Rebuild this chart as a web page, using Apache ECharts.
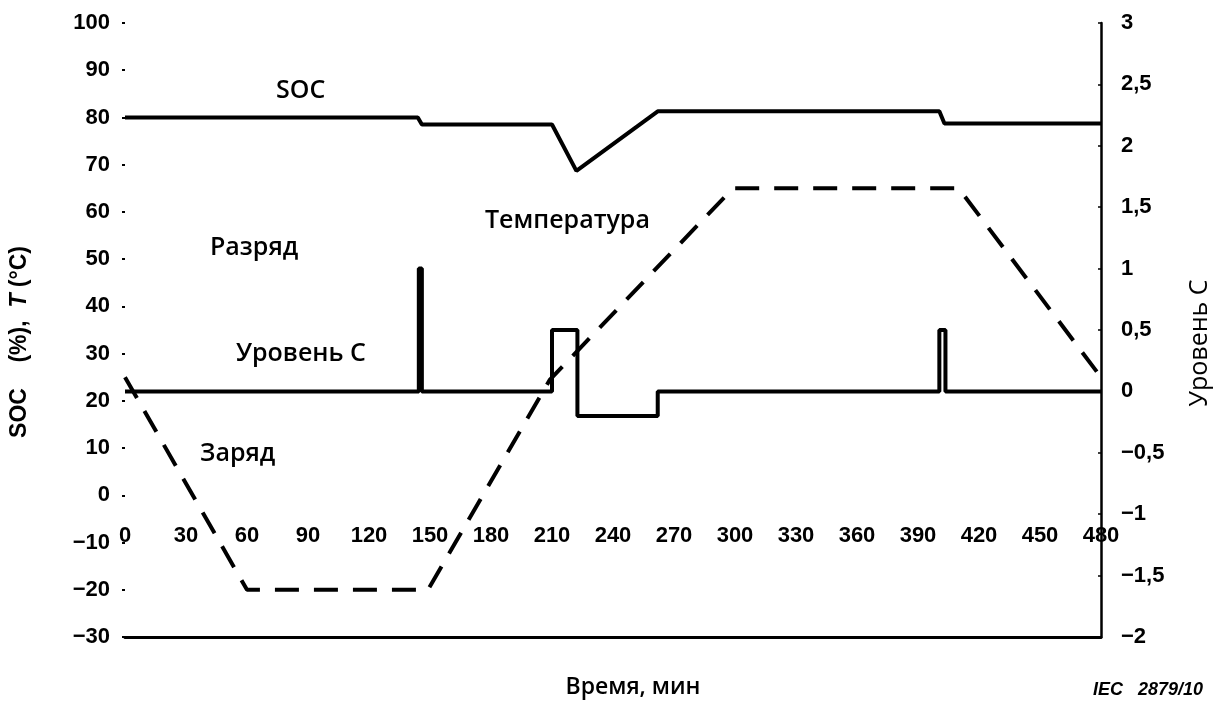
<!DOCTYPE html>
<html>
<head>
<meta charset="utf-8">
<script src="https://cdn.jsdelivr.net/npm/echarts@6/dist/echarts.min.js"></script>
<style>
  html, body { margin: 0; padding: 0; background: #fff; }
  #chart { width: 1220px; height: 704px; }
</style>
</head>
<body>
<div id="chart"></div>
<script>
// SOC, % (левая ось)
var socTime = [0, 144, 146, 210, 222, 262, 400.5, 403, 480]
var socValue = [80, 80, 78.5, 78.5, 68.7, 81.3, 81.3, 78.7, 78.7]

// Температура, °C (левая ось), штриховая
var tempTime = [0, 60, 149, 209, 299, 410, 480]
var tempValue = [25, -20, -20, 24.5, 65, 65, 25]

// Уровень C (правая ось)
var levelTime = [0, 144.5, 144.5, 146, 146, 210, 210, 222.5, 222.5, 262, 262, 400.5, 400.5, 403.5, 403.5, 480]
var levelValue = [0, 0, 1, 1, 0, 0, 0.5, 0.5, -0.2, -0.2, 0, 0, 0.5, 0.5, 0, 0]

// подписи на поле графика
var notes = [
    { text: 'SOC', x: 276, y: 95 },
    { text: 'Разряд', x: 210, y: 252 },
    { text: 'Температура', x: 485, y: 225 },
    { text: 'Уровень С', x: 236, y: 358 },
    { text: 'Заряд', x: 200, y: 458 }
]

function pairs(xs, ys) {
    return xs.map(function(x, i) { return [x, ys[i]] })
}

function minus(v) {
    return String(v).replace('-', '−').replace('.', ',')
}

var tickFont = {
    color: '#000',
    fontFamily: 'Liberation Sans',
    fontWeight: 'bold',
    fontSize: 22
}

var chart = echarts.init(document.getElementById('chart'))

// ось X подписана на уровне 0 левой шкалы: 130 единиц на 623 px, от -30 до 0
var plotH = 704 - 23 - 58
var zeroOffset = -Math.round(plotH * 30 / 130)

var option = {
    animation: false,
    backgroundColor: '#fff',
    grid: { left: 124, right: 118, top: 23, bottom: 58 },
    xAxis: [{
        type: 'value',
        min: 0,
        max: 480,
        interval: 30,
        position: 'bottom',
        offset: zeroOffset,
        axisLine: { show: false, onZero: false },
        axisTick: { show: false },
        splitLine: { show: false },
        axisLabel: Object.assign({ margin: 32 }, tickFont)
    }, {
        type: 'value',
        min: 0,
        max: 480,
        position: 'bottom',
        axisLine: { show: true, onZero: false, lineStyle: { color: '#000', width: 3 } },
        axisTick: { show: false },
        axisLabel: { show: false },
        splitLine: { show: false },
        name: 'Время, мин',
        nameLocation: 'middle',
        nameGap: 39,
        nameTextStyle: {
            color: '#000',
            fontFamily: 'Open Sans',
            fontWeight: 600,
            fontSize: 23,
            padding: [0, 0, 0, 40]
        }
    }],
    yAxis: [{
        type: 'value',
        position: 'left',
        min: -30,
        max: 100,
        interval: 10,
        axisLine: { show: false, onZero: false, lineStyle: { color: 'rgba(0,0,0,0)', width: 0 } },
        axisTick: { show: true, length: 3, lineStyle: { color: '#000', width: 2 } },
        splitLine: { show: false },
        axisLabel: Object.assign({ margin: 15, formatter: minus }, tickFont),
        name: '{a|SOC    (%),  }{i|T}{a| (°C)}',
        nameLocation: 'middle',
        nameGap: 94,
        nameRotate: 90,
        nameTextStyle: {
            padding: [0, 24, 0, 0],
            rich: {
                a: { color: '#000', fontFamily: 'Liberation Sans', fontWeight: 'bold', fontSize: 23 },
                i: { color: '#000', fontFamily: 'Liberation Sans', fontWeight: 'bold', fontStyle: 'italic', fontSize: 23 }
            }
        }
    }, {
        type: 'value',
        position: 'right',
        min: -2,
        max: 3,
        interval: 0.5,
        axisLine: { show: true, onZero: false, lineStyle: { color: '#000', width: 2.5 } },
        axisTick: { show: true, inside: true, length: 3, lineStyle: { color: '#000', width: 1.5 } },
        splitLine: { show: false },
        axisLabel: Object.assign({ margin: 20, formatter: minus }, tickFont),
        name: 'Уровень С',
        nameLocation: 'middle',
        nameGap: 86,
        nameRotate: 90,
        nameTextStyle: {
            color: '#000',
            fontFamily: 'Open Sans',
            fontWeight: 500,
            fontSize: 25,
            padding: [0, 26, 0, 0]
        }
    }],
    series: [{
        name: 'SOC',
        type: 'line',
        xAxisIndex: 0,
        yAxisIndex: 0,
        symbol: 'none',
        lineStyle: { color: '#000', width: 4 },
        data: pairs(socTime, socValue)
    }, {
        name: 'Температура',
        type: 'line',
        xAxisIndex: 0,
        yAxisIndex: 0,
        symbol: 'none',
        lineStyle: { color: '#000', width: 4, type: [24, 15] },
        data: pairs(tempTime, tempValue)
    }, {
        name: 'Уровень С',
        type: 'line',
        xAxisIndex: 0,
        yAxisIndex: 1,
        symbol: 'none',
        lineStyle: { color: '#000', width: 4 },
        data: pairs(levelTime, levelValue)
    }],
    graphic: notes.map(function(n) {
        return {
            type: 'text',
            left: n.x,
            top: n.y - 17,
            style: {
                text: n.text,
                fill: '#000',
                font: '600 25px "Open Sans"'
            }
        }
    }).concat([{
        type: 'text',
        left: 1093,
        top: 681,
        style: {
            text: 'IEC   2879/10',
            fill: '#000',
            font: 'italic bold 18px "Liberation Sans"'
        }
    }])
}

chart.setOption(option)
</script>
</body>
</html>
